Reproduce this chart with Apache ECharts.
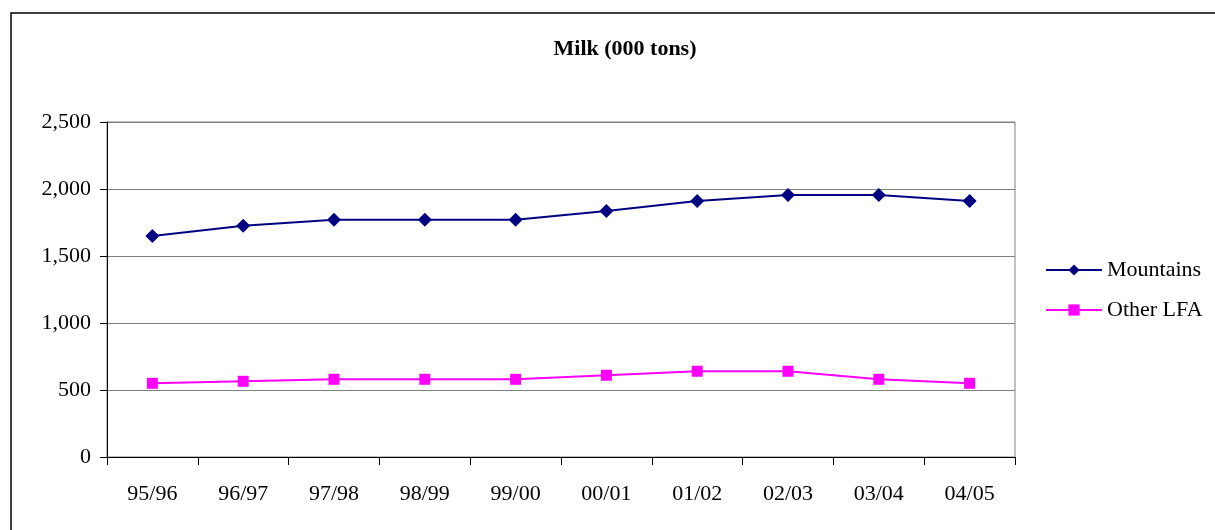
<!DOCTYPE html>
<html>
<head>
<meta charset="utf-8">
<script src="https://cdn.jsdelivr.net/npm/echarts@6/dist/echarts.min.js"></script>
<style>
html,body{margin:0;padding:0;background:#fff;}
#chart{width:1215px;height:530px;}
</style>
</head>
<body>
<div id="chart"></div>
<script>
const categories = ["95/96","96/97","97/98","98/99","99/00","00/01","01/02","02/03","03/04","04/05"];
const mountains = [1650,1725,1770,1770,1770,1835,1910,1955,1955,1910];
const otherLFA = [550,565,580,580,580,610,640,640,580,550];
const titleText = "Milk (000 tons)";

const font = "'Liberation Serif','Times New Roman',serif";
const chart = echarts.init(document.getElementById('chart'), null, {renderer:'canvas'});
chart.setOption({
  animation:false,
  backgroundColor:'#fff',
  title:{
    text:titleText, left:620, top:33, textAlign:'center',
    textStyle:{fontFamily:font, fontWeight:'bold', fontSize:22, color:'#000'}
  },
  graphic:[{
    type:'rect', shape:{x:11, y:13, width:1220, height:530},
    style:{fill:null, stroke:'#000', lineWidth:1.5}, silent:true, z:-1
  }],
  legend:{
    orient:'vertical', left:1045, top:259, itemGap:18, padding:0,
    itemWidth:56, itemHeight:14,
    textStyle:{fontFamily:font, fontSize:22, color:'#000'},
    data:['Mountains','Other LFA']
  },
  grid:{left:107, right:200, top:122, bottom:73, show:true, borderColor:'#808080', borderWidth:1},
  xAxis:{
    type:'category', data:categories, boundaryGap:true,
    axisLine:{lineStyle:{color:'#000', width:1}},
    axisTick:{show:true, length:8, alignWithLabel:false, lineStyle:{color:'#000'}},
    axisLabel:{fontFamily:font, fontSize:22, color:'#000', margin:26},
    splitLine:{show:false}
  },
  yAxis:{
    type:'value', min:0, max:2500, interval:500,
    axisLine:{show:true, lineStyle:{color:'#000', width:1}},
    axisTick:{show:true, length:7, lineStyle:{color:'#000'}},
    axisLabel:{fontFamily:font, fontSize:22, color:'#000', margin:16,
      formatter:function(v){return v.toLocaleString('en-US');}},
    splitLine:{show:true, lineStyle:{color:'#808080', width:1}}
  },
  series:[
    {name:'Mountains', type:'line', data:mountains, symbol:'diamond', symbolSize:14,
     itemStyle:{color:'#000080'}, lineStyle:{color:'#000080', width:2}},
    {name:'Other LFA', type:'line', data:otherLFA, symbol:'rect', symbolSize:11,
     itemStyle:{color:'#FF00FF'}, lineStyle:{color:'#FF00FF', width:2}}
  ]
});
</script>
</body>
</html>
